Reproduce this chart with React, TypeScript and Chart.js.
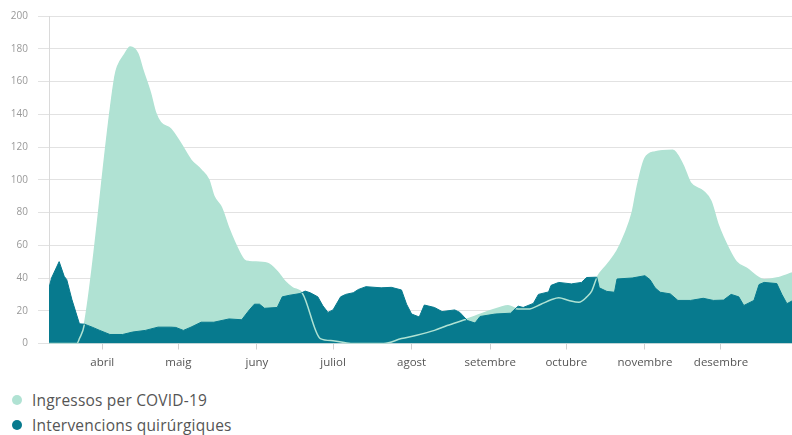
import React, { useEffect, useRef } from "react";
import { Chart, registerables } from "chart.js";

Chart.register(...registerables);

// Day offsets counted from the first day shown (≈ 11 March)
const MONTH_LABELS = ["abril", "maig", "juny", "juliol", "agost", "setembre", "octubre", "novembre", "desembre"];
const MONTH_START_DAYS = [21, 51, 82, 112, 143, 174, 204, 235, 265];

const Y_TICKS_MAX = 200;
const Y_STEP = 20;

const covidDays = [0, 11, 12, 14, 26, 27, 30, 32, 35, 37, 40, 42, 44, 48, 52, 56, 60, 63, 65, 68, 71, 75, 77, 79, 86, 90, 93, 96, 100, 107, 112, 119, 132, 139, 145, 152, 157, 163, 167, 171, 178, 181, 185, 189, 194, 198, 201, 205, 209, 212, 214, 216, 220, 224, 227, 230, 232, 235, 239, 246, 250, 253, 258, 261, 264, 268, 271, 275, 282, 287, 293];
const covidValues = [0, 0, 3, 12, 163, 169, 177, 181, 177, 167, 153, 141, 135, 131, 122, 112, 106, 100, 90, 83, 70, 56, 51, 50, 49, 44, 38, 34, 30.5, 3, 1.7, 0, 0, 3, 5, 8, 11, 14, 16, 18.4, 22, 23, 21, 21, 24, 26.7, 28, 26.3, 25.2, 28.3, 32, 40, 48, 56.5, 66.5, 80, 96, 113, 117, 118, 109, 98, 93, 87, 72, 58, 50, 46, 39, 40, 43];

const surgeryDays = [0, 1, 4, 6, 7, 9, 12, 14, 17, 20, 24, 29, 33, 38, 43, 48, 50, 53, 56, 60, 65, 71, 76, 79, 81, 83, 85, 90, 92, 95, 99, 101, 103, 106, 108, 110, 112, 115, 117, 120, 122, 125, 131, 135, 139, 141, 143, 146, 148, 152, 155, 160, 162, 165, 168, 170, 176, 182, 185, 187, 191, 193, 197, 198, 201, 206, 210, 212, 216, 217, 220, 223, 224, 230, 235, 237, 239, 241, 245, 248, 253, 258, 262, 266, 269, 272, 274, 278, 280, 282, 287, 289, 291, 293];
const surgeryValues = [34, 40, 50, 41, 39, 27, 12, 11.8, 10, 8, 5.5, 5.5, 7, 8, 10, 10, 9.8, 8, 10, 13, 13, 15, 14.5, 20.5, 24, 24, 21.5, 22, 28.5, 29.5, 30.5, 32, 31, 28.5, 23, 19, 20.5, 28.5, 30, 31, 33, 34.7, 34, 34.3, 32.7, 24, 18, 16.2, 23.5, 22, 19.5, 20.5, 19, 14, 12.5, 16.5, 18, 18.5, 22.8, 22, 24.5, 30, 31.5, 35.5, 37.3, 36.4, 37.3, 40.3, 40.5, 34, 31.8, 31.3, 39.4, 40, 41.4, 39, 34, 31.3, 30.3, 26.3, 26.3, 27.6, 26.3, 26.5, 30, 28.5, 23.2, 26.3, 36, 37.3, 36.6, 30, 24.3, 26];

const SERIES_NAMES = ["Ingressos per COVID-19", "Intervencions quirúrgiques"];
const LIGHT = "#b0e2d3";
const DARK = "#077a8e";
const FONT = "'Open Sans', 'DejaVu Sans', sans-serif";

export default function App() {
  const canvasRef = useRef<HTMLCanvasElement | null>(null);

  useEffect(() => {
    document.body.style.margin = "0";
    if (!canvasRef.current) return;
    const chart = new Chart(canvasRef.current, {
      type: "line",
      data: {
        datasets: [
          {
            label: SERIES_NAMES[0],
            data: covidDays.map((d, i) => ({ x: d, y: covidValues[i] })),
            borderColor: LIGHT,
            backgroundColor: LIGHT,
            borderWidth: 1.5,
            pointRadius: 0,
            fill: "origin",
            cubicInterpolationMode: "monotone",
            order: 2,
          },
          {
            label: SERIES_NAMES[1],
            data: surgeryDays.map((d, i) => ({ x: d, y: surgeryValues[i] })),
            borderColor: DARK,
            backgroundColor: DARK,
            borderWidth: 1,
            pointRadius: 0,
            fill: "origin",
            tension: 0,
            order: 1,
          },
        ],
      },
      options: {
        animation: false,
        responsive: false,
        maintainAspectRatio: false,
        layout: { padding: { top: 12, right: 0, left: 0, bottom: 0 } },
        plugins: {
          legend: { display: false },
          tooltip: { enabled: false },
          filler: { drawTime: "beforeDatasetsDraw" } as any,
        },
        scales: {
          x: {
            type: "linear",
            min: 0,
            max: 293,
            afterBuildTicks: (scale: any) => {
              scale.ticks = MONTH_START_DAYS.map((v) => ({ value: v }));
            },
            afterFit: (scale: any) => {
              scale.height = 36.5;
            },
            ticks: {
              autoSkip: false,
              maxRotation: 0,
              padding: 6,
              color: "#555",
              font: { family: FONT, size: 11.5 },
              callback: (value: any) => {
                const idx = MONTH_START_DAYS.indexOf(Number(value));
                return idx >= 0 ? MONTH_LABELS[idx] : "";
              },
            },
            grid: { drawOnChartArea: false, drawTicks: true, tickLength: 6, color: "#d0d0d0" },
            border: { display: false },
          },
          y: {
            min: 0,
            max: Y_TICKS_MAX,
            afterFit: (scale: any) => {
              scale.width = 49;
            },
            ticks: {
              stepSize: Y_STEP,
              padding: 10,
              color: "#999",
              font: { family: FONT, size: 10 },
            },
            grid: { color: "#e2e2e2", tickLength: 11 },
            border: { display: true, color: "#dadada" },
          },
        },
      },
    });
    return () => chart.destroy();
  }, []);

  const legendItem = (color: string, text: string, top: number) => (
    <div
      style={{
        position: "absolute",
        left: 12,
        top,
        height: 20,
        lineHeight: "20px",
        display: "flex",
        alignItems: "center",
        fontFamily: FONT,
        fontSize: 15.5,
        letterSpacing: 0.2,
        color: "#555",
        whiteSpace: "nowrap",
      }}
    >
      <span
        style={{
          display: "inline-block",
          width: 10,
          height: 10,
          borderRadius: "50%",
          background: color,
          marginRight: 10,
        }}
      />
      <span>{text}</span>
    </div>
  );

  return (
    <div style={{ position: "relative", width: 792, height: 435, background: "#fff", overflow: "hidden" }}>
      <canvas ref={canvasRef} width={792} height={380} style={{ position: "absolute", left: 0, top: 0, width: 792, height: 380 }} />
      {legendItem(LIGHT, SERIES_NAMES[0], 390)}
      {legendItem(DARK, SERIES_NAMES[1], 415)}
    </div>
  );
}
